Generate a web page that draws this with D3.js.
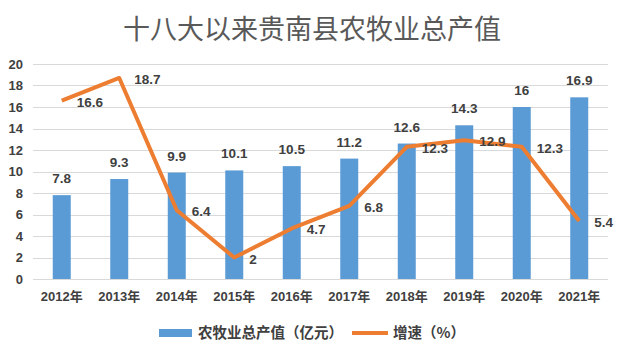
<!DOCTYPE html>
<html lang="zh">
<head>
    <meta charset="UTF-8">
    <title>十八大以来贵南县农牧业总产值</title>
    <script src="https://d3js.org/d3.v7.min.js"></script>
    <style>
        body { margin: 0; padding: 0; background: #fff; }
        svg { display: block; font-family: "Noto Sans CJK SC", "DejaVu Sans", sans-serif; }
        .grid line { stroke: #d9d9d9; stroke-width: 1px; shape-rendering: crispEdges; }
        .axis path, .axis line { display: none; }
        .axis text { fill: #404040; font-size: 13px; font-weight: bold; font-family: "Liberation Sans", "Noto Sans CJK SC", sans-serif; }
        .label { fill: #404040; font-size: 13.5px; font-weight: bold; font-family: "Liberation Sans", sans-serif; }
    </style>
</head>
<body>
<svg width="620" height="352"></svg>
<script>
    const years = ["2012年", "2013年", "2014年", "2015年", "2016年", "2017年", "2018年", "2019年", "2020年", "2021年"];
    const output = [7.8, 9.3, 9.9, 10.1, 10.5, 11.2, 12.6, 14.3, 16, 16.9];
    const growth = [16.6, 18.7, 6.4, 2, 4.7, 6.8, 12.3, 12.9, 12.3, 5.4];
    const yTicks = [0, 2, 4, 6, 8, 10, 12, 14, 16, 18, 20];

    const svg = d3.select("svg");
    const margin = { top: 64, right: 12, bottom: 73, left: 33 };
    const width = 620 - margin.left - margin.right;
    const height = 352 - margin.top - margin.bottom;

    svg.append("text")
        .attr("x", 312).attr("y", 39)
        .attr("text-anchor", "middle")
        .attr("fill", "#595959")
        .style("font-size", "27px")
        .text("十八大以来贵南县农牧业总产值");

    const g = svg.append("g").attr("transform", `translate(${margin.left},${margin.top})`);

    const x = d3.scaleBand().domain(years).range([0, width]);
    const y = d3.scaleLinear().domain([0, 20]).range([height, 0]);

    g.append("g").attr("class", "grid")
        .selectAll("line").data(yTicks).enter().append("line")
        .attr("x1", 0).attr("x2", width)
        .attr("y1", d => Math.round(y(d)) + 0.5).attr("y2", d => Math.round(y(d)) + 0.5);

    g.append("g").attr("class", "axis")
        .call(d3.axisLeft(y).tickValues(yTicks).tickSize(0).tickPadding(10));

    g.append("g").attr("class", "axis")
        .attr("transform", `translate(0,${height})`)
        .call(d3.axisBottom(x).tickSize(0).tickPadding(13));

    const barW = 18;
    g.selectAll(".bar").data(output).enter().append("rect")
        .attr("class", "bar")
        .attr("fill", "#5b9bd5")
        .attr("x", (d, i) => x(years[i]) + x.bandwidth() / 2 - barW / 2)
        .attr("y", d => y(d))
        .attr("width", barW)
        .attr("height", d => height - y(d));

    g.selectAll(".barlabel").data(output).enter().append("text")
        .attr("class", "label")
        .attr("text-anchor", "middle")
        .attr("x", (d, i) => x(years[i]) + x.bandwidth() / 2)
        .attr("y", d => y(d) - 12)
        .text(d => d);

    const line = d3.line()
        .x((d, i) => x(years[i]) + x.bandwidth() / 2)
        .y(d => y(d));

    g.append("path").datum(growth)
        .attr("fill", "none")
        .attr("stroke", "#ed7d31")
        .attr("stroke-width", 4)
        .attr("stroke-linejoin", "round")
        .attr("d", line);

    g.selectAll(".linelabel").data(growth).enter().append("text")
        .attr("class", "label")
        .attr("x", (d, i) => x(years[i]) + x.bandwidth() / 2 + 15)
        .attr("y", d => y(d) + 6)
        .text(d => d);

    // legend
    const lg = svg.append("g").attr("transform", "translate(0,333)");
    lg.append("rect").attr("x", 159).attr("y", -4).attr("width", 33).attr("height", 8).attr("fill", "#5b9bd5");
    lg.append("text").attr("x", 198).attr("y", 5).attr("fill", "#404040")
        .style("font-size", "14.5px").style("font-weight", "bold").text("农牧业总产值（亿元）");
    lg.append("line").attr("x1", 352).attr("x2", 388).attr("y1", 0).attr("y2", 0)
        .attr("stroke", "#ed7d31").attr("stroke-width", 4);
    lg.append("text").attr("x", 393).attr("y", 5).attr("fill", "#404040")
        .style("font-size", "14.5px").style("font-weight", "bold").text("增速（%）");
</script>
</body>
</html>
